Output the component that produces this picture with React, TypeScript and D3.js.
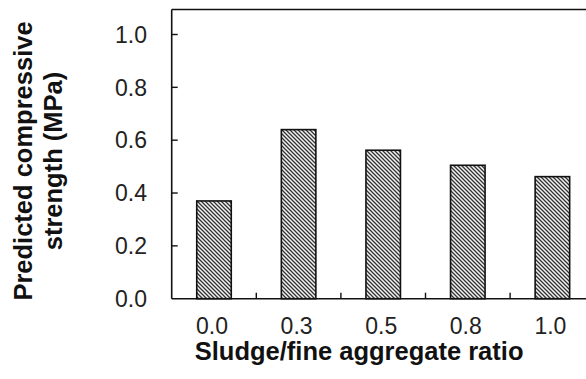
import React from 'react';
import * as d3 from 'd3';

const WIDTH = 586;
const HEIGHT = 379;

// plot area; the right edge runs past the window like in the source figure
const MARGIN = { top: 9.5, left: 171.7 };
const PLOT_RIGHT = 594.7;
const PLOT_BOTTOM = 298.7;

const categories = ['0.0', '0.3', '0.5', '0.8', '1.0'];
const strength = [0.37, 0.64, 0.562, 0.505, 0.462];
const yTicks = [0, 0.2, 0.4, 0.6, 0.8, 1.0];

const FONT = 'Arial, "Liberation Sans", Helvetica, sans-serif';

const App = () => {
  const x = d3
    .scaleBand<string>()
    .domain(categories)
    .range([MARGIN.left, PLOT_RIGHT])
    .paddingInner(0.592)
    .paddingOuter(0.296);

  // band boundaries for the small tick marks between bars
  const xEdges = d3.scaleBand<string>().domain(categories).range([MARGIN.left, PLOT_RIGHT]);

  const y = d3
    .scaleLinear()
    .domain([0, 1.1])
    .range([PLOT_BOTTOM, PLOT_BOTTOM - 264.2 * 1.1]);

  return (
    <svg
      width={WIDTH}
      height={HEIGHT}
      viewBox={`0 0 ${WIDTH} ${HEIGHT}`}
      style={{ position: 'absolute', left: 0, top: 0, background: '#fff' }}
    >
      <defs>
        <pattern id="hatch" patternUnits="userSpaceOnUse" width={4} height={4}>
          <rect width={4} height={4} fill="#f2f2f2" />
          <path d="M-1,-1 L5,5 M3,-1 L5,1 M-1,3 L1,5" stroke="#333" strokeWidth={1.3} />
        </pattern>
      </defs>

      {/* bars */}
      {strength.map((v, i) => (
        <rect
          key={categories[i]}
          x={x(categories[i])}
          y={y(v)}
          width={x.bandwidth()}
          height={y(0) - y(v)}
          fill="url(#hatch)"
          stroke="#111"
          strokeWidth={1.6}
        />
      ))}

      {/* frame */}
      <line x1={MARGIN.left} x2={PLOT_RIGHT} y1={MARGIN.top} y2={MARGIN.top} stroke="#111" strokeWidth={1.6} />
      <line x1={MARGIN.left} x2={MARGIN.left} y1={MARGIN.top} y2={PLOT_BOTTOM} stroke="#111" strokeWidth={1.6} />
      <line x1={MARGIN.left} x2={PLOT_RIGHT} y1={PLOT_BOTTOM} y2={PLOT_BOTTOM} stroke="#111" strokeWidth={1.6} />

      {/* y axis */}
      {yTicks.map((t) => (
        <g key={t}>
          {t > 0 && (
            <line x1={MARGIN.left} x2={MARGIN.left + 6} y1={y(t)} y2={y(t)} stroke="#111" strokeWidth={1.4} />
          )}
          <text
            x={147}
            y={y(t)}
            dy="0.36em"
            textAnchor="end"
            fontFamily={FONT}
            fontSize={23}
            fill="#222"
          >
            {t.toFixed(1)}
          </text>
        </g>
      ))}

      {/* x axis */}
      {categories.slice(1).map((c) => (
        <line
          key={c}
          x1={xEdges(c)}
          x2={xEdges(c)}
          y1={PLOT_BOTTOM}
          y2={PLOT_BOTTOM - 6}
          stroke="#111"
          strokeWidth={1.4}
        />
      ))}
      {categories.map((c) => (
        <text
          key={c}
          x={(x(c) as number) + x.bandwidth() / 2 - 2}
          y={334}
          textAnchor="middle"
          fontFamily={FONT}
          fontSize={23}
          fill="#222"
        >
          {c}
        </text>
      ))}

      <text
        x={(x('0.0') as number) - 2}
        y={360}
        fontFamily={FONT}
        fontSize={25.5}
        fontWeight="bold"
        fill="#111"
      >
        Sludge/fine aggregate ratio
      </text>

      <g transform="translate(0, 161) rotate(-90)" fontFamily={FONT} fontSize={25.5} fontWeight="bold" fill="#111">
        <text x={0} y={31.5} textAnchor="middle">
          Predicted compressive
        </text>
        <text x={0} y={61.5} textAnchor="middle">
          strength (MPa)
        </text>
      </g>
    </svg>
  );
};

export default App;
